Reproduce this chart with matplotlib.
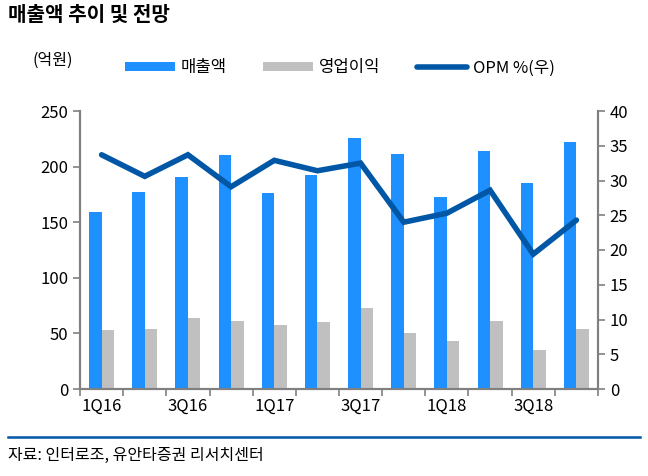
import matplotlib
matplotlib.use("Agg")
import matplotlib.pyplot as plt
import numpy as np
from matplotlib.lines import Line2D
from matplotlib.patches import Patch

plt.rcParams["font.family"] = ["Noto Sans CJK KR", "DejaVu Sans"]

# ---------------------------------------------------------------------------
# Data (억원, %)
# ---------------------------------------------------------------------------
quarters = ["1Q16", "2Q16", "3Q16", "4Q16", "1Q17", "2Q17",
            "3Q17", "4Q17", "1Q18", "2Q18", "3Q18", "4Q18"]
sales = [159, 177, 191, 210, 176, 192, 226, 211, 173, 214, 185, 222]
op_income = [53, 54, 64, 61, 58, 60, 73, 50, 43, 61, 35, 54]
opm = [33.7, 30.6, 33.7, 29.1, 32.9, 31.4, 32.5, 24.0, 25.3, 28.6, 19.4, 24.3]

BLUE = "#1E90FF"
GREY = "#C0C0C0"
LINE = "#0057A6"
SPINE = "#808080"

fig = plt.figure(figsize=(6.48, 4.76), dpi=100)
ax = fig.add_axes([80 / 648, 1 - 389 / 476, 518 / 648, 278 / 476])
ax2 = ax.twinx()

x = np.arange(len(quarters))
w = 0.29
ax.bar(x - w / 2, sales, width=w, color=BLUE, zorder=2)
ax.bar(x + w / 2, op_income, width=w, color=GREY, zorder=2)
ax2.plot(x, opm, color=LINE, linewidth=4, solid_capstyle="round",
         solid_joinstyle="miter", zorder=3)

ax.set_xlim(-0.5, len(quarters) - 0.5)
ax.set_ylim(0, 250)
ax2.set_ylim(0, 40)
ax.set_yticks(range(0, 251, 50))
ax2.set_yticks(range(0, 41, 5))

# category boundary ticks, labels on every other quarter
ax.set_xticks(np.arange(-0.5, len(quarters)), minor=False)
ax.set_xticklabels([])
ax.set_xticks(x[::2], minor=True)
ax.set_xticklabels(quarters[::2], minor=True)
ax.tick_params(axis="x", which="minor", length=0, pad=6, labelsize=12)
ax.tick_params(axis="x", which="major", length=5, color=SPINE, width=1.2)

for a in (ax, ax2):
    a.spines["top"].set_visible(False)
    for s in ("left", "right", "bottom"):
        a.spines[s].set_color(SPINE)
        a.spines[s].set_linewidth(1.5)
ax.tick_params(axis="y", length=5, color=SPINE, width=1.2, labelsize=12)
ax2.tick_params(axis="y", length=5, color=SPINE, width=1.2, labelsize=12)

# texts
fig.text(8 / 648, 1 - 14 / 476, "매출액 추이 및 전망", fontsize=14.5,
         fontweight="bold", va="center", ha="left")
fig.text(33 / 648, 1 - 60 / 476, "(억원)", fontsize=11.5, va="center", ha="left")

handles = [
    Patch(facecolor=BLUE, edgecolor="none"),
    Patch(facecolor=GREY, edgecolor="none"),
    Line2D([0], [0], color=LINE, linewidth=4, solid_capstyle="round"),
]
fig.legend(handles, ["매출액", "영업이익", "OPM %(우)"], ncol=3,
           loc="center", bbox_to_anchor=(340 / 648, 1 - 68 / 476),
           frameon=False, fontsize=12, handlelength=3.0, handleheight=0.5,
           handletextpad=0.35, columnspacing=2.2)

fig.add_artist(Line2D([8 / 648, 640 / 648], [1 - 437 / 476, 1 - 437 / 476],
                      color=LINE, linewidth=1.8, transform=fig.transFigure))
fig.text(8 / 648, 1 - 455 / 476, "자료: 인터로조, 유안타증권 리서치센터",
         fontsize=11.5, va="center", ha="left")

fig.savefig("out.png", dpi=100)
